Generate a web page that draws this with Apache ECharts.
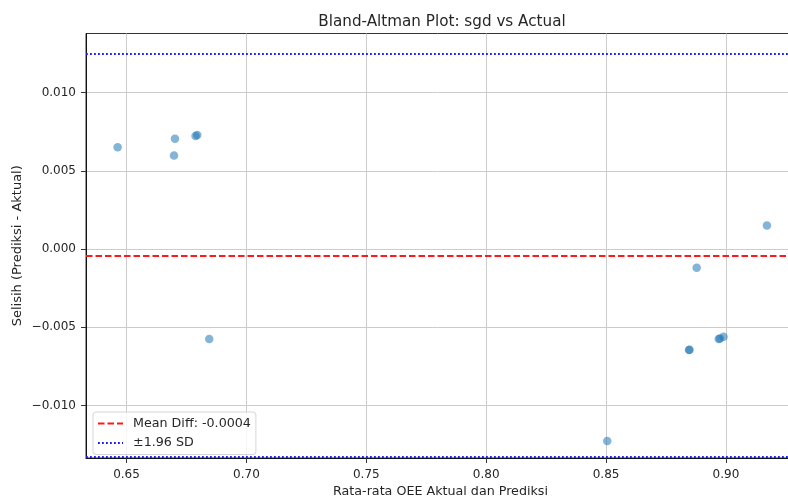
<!DOCTYPE html>
<html>
<head>
<meta charset="utf-8">
<script src="https://cdn.jsdelivr.net/npm/echarts@6/dist/echarts.min.js"></script>
<style>
html,body{margin:0;padding:0;background:#fff;}
#chart{width:788px;height:499px;}
</style>
</head>
<body>
<div id="chart"></div>
<script>
// Mean of actual & predicted OEE (x) and difference predicted - actual (y)
const meanOEE = [0.6463, 0.6702, 0.6698, 0.6788, 0.6795, 0.6845, 0.8505, 0.8846, 0.8848, 0.8878, 0.8970, 0.8975, 0.8990, 0.9171];
const diffOEE = [0.00651, 0.00704, 0.00598, 0.00722, 0.00729, -0.00575, -0.01226, -0.00645, -0.00643, -0.00119, -0.00575, -0.00572, -0.00560, 0.00151];
const meanDiff = -0.0004;
const upperLoA = 0.0125;
const lowerLoA = -0.0133;
const xTicks = [0.65, 0.70, 0.75, 0.80, 0.85, 0.90];
const yTicks = [-0.010, -0.005, 0.000, 0.005, 0.010];
const titleText = 'Bland-Altman Plot: sgd vs Actual';
const xLabel = 'Rata-rata OEE Aktual dan Prediksi';
const yLabel = 'Selisih (Prediksi - Aktual)';
const legendMean = 'Mean Diff: -0.0004';
const legendSD = '±1.96 SD';

const FONT = 'DejaVu Sans';
const TXT = '#262626';
const points = meanOEE.map((x, i) => [x, diffOEE[i]]);
const fmtY = v => (v < 0 ? '\u2212' : '') + Math.abs(v).toFixed(3);

const chart = echarts.init(document.getElementById('chart'), null, {renderer: 'canvas'});
chart.setOption({
  animation: false,
  backgroundColor: '#fff',
  title: {
    text: titleText,
    left: 442, top: 14.5, textAlign: 'center', padding: 0,
    textStyle: {fontFamily: FONT, fontSize: 15.2, fontWeight: 'normal', color: TXT}
  },
  grid: {
    left: 86, top: 33.5, right: -7, bottom: 41,
    outerBoundsMode: 'none', containLabel: false,
    show: true, borderColor: '#333', borderWidth: 1
  },
  legend: {
    orient: 'vertical', left: 93, top: 412,
    data: [legendMean, legendSD],
    itemWidth: 25, itemHeight: 12, itemGap: 6.5,
    padding: [5, 5, 5, 4],
    backgroundColor: 'rgba(255,255,255,0.8)',
    borderColor: '#d5d5d5', borderWidth: 1, borderRadius: 3,
    itemStyle: {color: 'rgba(0,0,0,0)', borderWidth: 0, opacity: 0},
    textStyle: {fontFamily: FONT, fontSize: 12.7, color: TXT, padding: [0, 0, 0, 5]}
  },
  xAxis: {
    type: 'value', min: 0.6331, max: 0.9288,
    name: xLabel, nameLocation: 'middle', nameGap: 27, nameMoveOverlap: false,
    nameTextStyle: {fontFamily: FONT, fontSize: 12.7, color: TXT},
    axisLine: {show: true, onZero: false, lineStyle: {color: '#111', width: 1}},
    axisTick: {show: true, length: 5, lineStyle: {color: '#333'}, customValues: xTicks},
    axisLabel: {fontFamily: FONT, fontSize: 12, color: TXT, margin: 11, customValues: xTicks,
                formatter: v => v.toFixed(2)},
    splitLine: {show: true, lineStyle: {color: '#cccccc', width: 1}}
  },
  yAxis: {
    type: 'value', min: -0.01335, max: 0.01377,
    name: yLabel, nameLocation: 'middle', nameGap: 62, nameRotate: 90, nameMoveOverlap: false,
    nameTextStyle: {fontFamily: FONT, fontSize: 13, color: TXT},
    axisLine: {show: true, onZero: false, lineStyle: {color: '#111', width: 1}},
    axisTick: {show: true, length: 5, lineStyle: {color: '#333'}, customValues: yTicks},
    axisLabel: {fontFamily: FONT, fontSize: 12, color: TXT, margin: 10, customValues: yTicks,
                formatter: fmtY},
    splitLine: {show: true, lineStyle: {color: '#cccccc', width: 1}}
  },
  series: [
    {
      type: 'scatter', name: 'points', data: points, symbolSize: 8.5,
      itemStyle: {color: '#1f77b4', opacity: 0.55}, z: 3
    },
    {
      type: 'line', name: legendMean, data: [], symbol: 'none',
      lineStyle: {color: '#ff1a1a', width: 2, type: [6.5, 3]},
      itemStyle: {color: '#ff1a1a'},
      markLine: {
        silent: true, symbol: 'none', label: {show: false}, precision: 8,
        lineStyle: {color: '#ff1a1a', width: 2, type: [6.5, 3]},
        data: [{yAxis: meanDiff}]
      }
    },
    {
      type: 'line', name: legendSD, data: [], symbol: 'none',
      lineStyle: {color: '#1a1aff', width: 1.8, type: [1.8, 2.2]},
      itemStyle: {color: '#1a1aff'},
      markLine: {
        silent: true, symbol: 'none', label: {show: false}, precision: 8,
        lineStyle: {color: '#1a1aff', width: 1.8, type: [1.8, 2.2]},
        data: [{yAxis: upperLoA}, {yAxis: lowerLoA}]
      }
    }
  ]
});
</script>
</body>
</html>
